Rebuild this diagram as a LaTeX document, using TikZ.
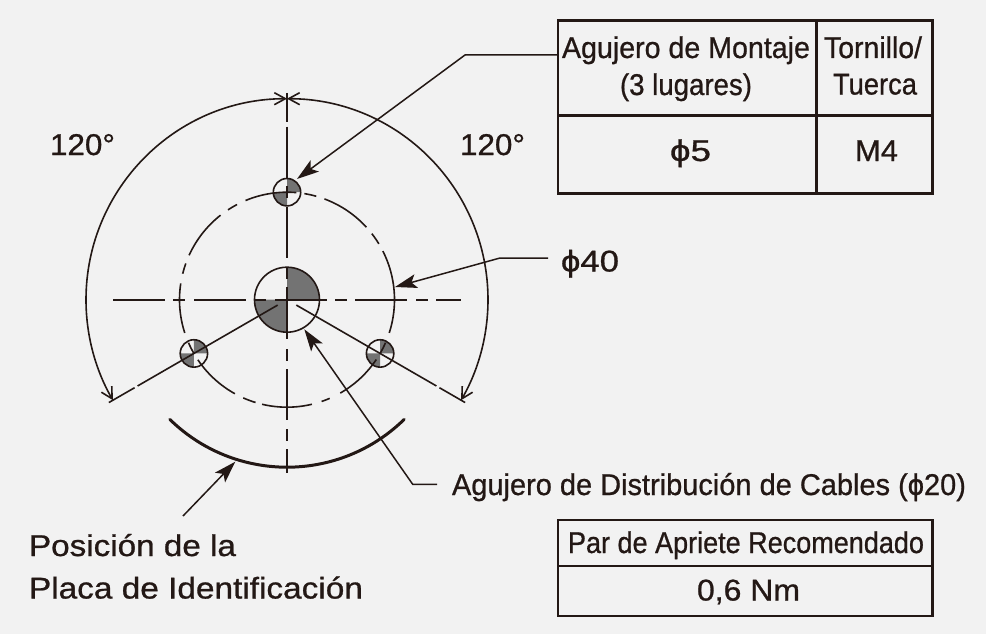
\documentclass[tikz,border=0pt]{standalone}
\usepackage{fontspec}
\usepackage{graphicx}
\setmainfont{Liberation Sans}[FakeBold=0.8]
\usetikzlibrary{arrows.meta,calc}
\definecolor{ink}{HTML}{231815}
\definecolor{paper}{HTML}{F2F2F2}
\definecolor{quad}{HTML}{737373}
\newcommand{\fitw}[2]{\resizebox{#1pt}{\height}{#2}}
\tikzset{
  thinline/.style={draw=ink,line width=1.6pt},
  tabline/.style={draw=ink,line width=2.6pt},
  leader/.style={draw=ink,line width=1.5pt,-{Stealth[length=22pt,width=14pt,inset=5pt]}},
  dimline/.style={draw=ink,line width=1.6pt,{Straight Barb[length=11pt,width=12pt]}-{Straight Barb[length=11pt,width=12pt]}},
  plate/.style={draw=ink,line width=3pt,line cap=round},
  label/.style={anchor=base west,inner sep=0pt,outer sep=0pt,text=ink,font=\fontsize{30}{30}\selectfont},
  hole/.style={draw=ink,line width=1.6pt,circle,inner sep=0pt,outer sep=0pt}
}
\newcommand{\quads}[2]{%
  \fill[quad] (#1) -- ++(0:#2) arc[start angle=0,end angle=90,radius=#2] -- cycle;
  \fill[quad] (#1) -- ++(180:#2) arc[start angle=180,end angle=270,radius=#2] -- cycle;}
\newcommand{\pcd}[2]{\draw[thinline] ([shift={(#1:107.5)}]c) arc[start angle=#1,end angle=#2,radius=107.5];}
\begin{document}
\begin{tikzpicture}[x=1pt,y=1pt]
\useasboundingbox (0,0) rectangle (986,-634);
\fill[paper] (0,0) rectangle (986,-634);
\coordinate (c) at (287,-299.7);
\coordinate (t) at (287,-192.2);
\coordinate (l) at (193.9,-353.45);
\coordinate (r) at (380.1,-353.45);
% quadrant fills
\quads{c}{32.5}
\quads{t}{13.7}
\quads{l}{13.7}
\quads{r}{13.7}
% holes
\node[hole,minimum size=65pt] (hub) at (c) {};
\node[hole,minimum size=27.4pt] (holeT) at (t) {};
\node[hole,minimum size=27.4pt] (holeL) at (l) {};
\node[hole,minimum size=27.4pt] (holeR) at (r) {};
% pitch circle
\pcd{85}{112.7}
\pcd{117.7}{123.3}
\pcd{128.2}{155.6}
\pcd{160.3}{166}
\pcd{171.3}{198}
\pcd{203.6}{210}
\pcd{214}{241}
\pcd{246}{253}
\pcd{256.6}{283.4}
\pcd{288.8}{293.4}
\pcd{299.7}{326.2}
\pcd{330}{336.4}
\pcd{342}{386.9}
\pcd{391.3}{397.9}
\pcd{402.4}{429.6}
\pcd{434.2}{440.7}
% horizontal centre line
\foreach \a/\b in {113/165,173/185,194/246,255/266,275/327,335/347,355/407,416/428,436/461}
  \draw[thinline] (\a,-299.7) -- (\b,-299.7);
% vertical centre line
\foreach \a/\b in {93/121.6,126.7/178,186/198,206.7/258,267/279,287/339,349/361,369/420,429/441,449/473}
  \draw[thinline] (287,-\a) -- (287,-\b);
% radial lines
\draw[thinline] ([shift={(210:10.8)}]c) -- ([shift={(210:172.5)}]c);
\draw[thinline] ([shift={(210:176)}]c) -- ([shift={(210:205.7)}]c);
\draw[thinline] ([shift={(-30:10.8)}]c) -- ([shift={(-30:172.5)}]c);
\draw[thinline] ([shift={(-30:176)}]c) -- ([shift={(-30:205.7)}]c);
% angle arcs
\draw[dimline] ([shift={(90:201)}]c) arc[start angle=90,end angle=210,radius=201];
\draw[dimline] ([shift={(90:201)}]c) arc[start angle=90,end angle=-30,radius=201];
% nameplate arc
\draw[plate] ([shift={(225.6:167.5)}]c) arc[start angle=225.6,end angle=314.4,radius=167.5];
% tables
\draw[tabline] (558,-20.7) rectangle (932.7,-193.3);
\draw[tabline] (558,-115.3) -- (932.7,-115.3);
\draw[tabline] (816.7,-20.7) -- (816.7,-193.3);
\draw[tabline] (558,-520) rectangle (932.7,-616);
\draw[tabline] (558,-566) -- (932.7,-566);
% labels
\node[label] (a1) at (50,-155) {\fitw{65}{120°}};
\node[label] (a2) at (460,-155) {\fitw{65}{120°}};
\node[label] (d40) at (561,-271.5) {\fitw{58}{ϕ40}};
\node[label] (cab) at (452,-495) {\fitw{514}{Agujero de Distribución de Cables (ϕ20)}};
\node[label] (pos1) at (29,-556) {\fitw{207}{Posición de la}};
\node[label] (pos2) at (29,-598.5) {\fitw{334}{Placa de Identificación}};
\node[label] (tm1) at (562,-58) {\fitw{248}{Agujero de Montaje}};
\node[label] (tm2) at (620,-95) {\fitw{132}{(3 lugares)}};
\node[label] (tt1) at (824,-58) {\fitw{98}{Tornillo/}};
\node[label] (tt2) at (833,-94.5) {\fitw{84}{Tuerca}};
\node[label] (v5) at (670,-161) {\fitw{41}{ϕ5}};
\node[label] (vm) at (855,-161) {\fitw{43}{M4}};
\node[label] (par) at (568,-553) {\fitw{356}{Par de Apriete Recomendado}};
\node[label] (nm) at (697,-600.5) {\fitw{103}{0,6 Nm}};
% leaders
\coordinate (m0) at (558,-55);
\coordinate (m1) at (465,-55);
\coordinate (mt) at (297,-179);
\coordinate (f0) at (548,-258);
\coordinate (f1) at (500,-258);
\coordinate (ft) at (395,-287);
\coordinate (k0) at (437,-484.3);
\coordinate (k1) at (412.7,-484.3);
\coordinate (kt) at (304.3,-329.3);
\coordinate (n0) at (183,-516);
\coordinate (nt) at (235.3,-461.7);
\draw[leader] (m0) -- (m1) -- (mt);
\draw[leader] (f0) -- (f1) -- (ft);
\draw[leader] (k0) -- (k1) -- (kt);
\draw[leader] (n0) -- (nt);
\end{tikzpicture}
\end{document}
